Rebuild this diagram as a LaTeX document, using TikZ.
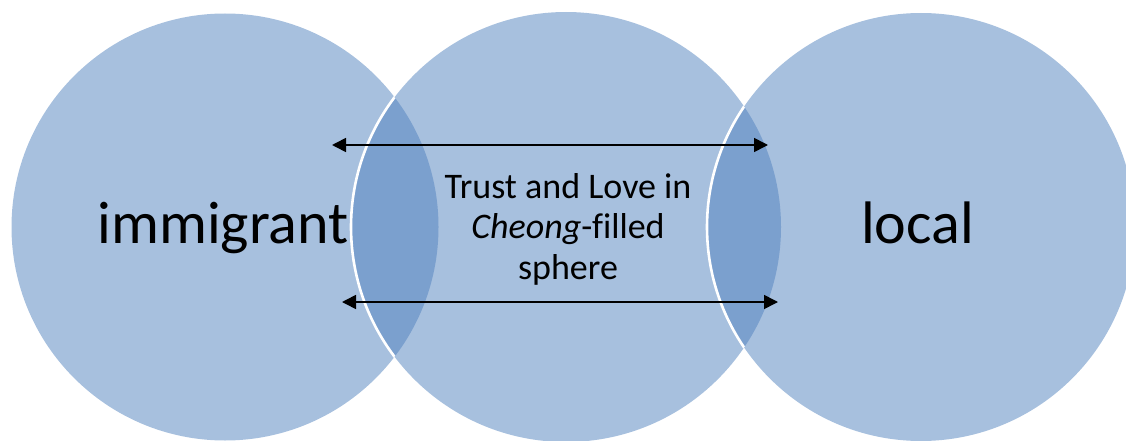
\documentclass[tikz,border=0pt]{standalone}
\usepackage{fontspec}
\setmainfont{Carlito}[Ligatures=NoCommon]
\usetikzlibrary{arrows.meta}
\definecolor{vennlight}{HTML}{A7C0DE}
\definecolor{venndark}{HTML}{7BA0CE}
\tikzset{
  vennfill/.style={fill=vennlight, draw=none},
  lensfill/.style={fill=venndark, draw=none},
  rimline/.style={draw=white, line width=2.6pt},
  biarrow/.style={line width=1.6pt, {Triangle[length=14pt,width=14pt]}-{Triangle[length=14pt,width=14pt]}},
  bigword/.style={font=\fontsize{60}{72}\selectfont, inner sep=0pt, anchor=base},
  midword/.style={font=\fontsize{36}{40.5}\selectfont, inner sep=0pt, align=center}
}
\begin{document}
\begin{tikzpicture}[x=1pt,y=-1pt]
\useasboundingbox (0,0) rectangle (1126,441);
% circles
\def\cL{(225,227) circle [radius=213.5]}
\def\cM{(566,227) circle [radius=215]}
\def\cR{(921,227) circle [radius=214]}
\path[vennfill] \cL;
\path[vennfill] \cM;
\path[vennfill] \cR;
% overlaps
\begin{scope}
  \clip \cL;
  \path[lensfill] \cM;
  \path[rimline] \cM;
\end{scope}
\begin{scope}
  \clip \cM;
  \path[lensfill] \cR;
  \path[rimline] \cR;
\end{scope}
% texts
\node[bigword] (imm) at (223,243) {immigrant};
\node[bigword] (loc) at (917.5,243) {local};
\node[midword] (mid) at (568,229) {Trust and Love in\\\textit{Cheong}-filled\\sphere};
% arrows
\coordinate (a1l) at (332,145);
\coordinate (a1r) at (768,145);
\coordinate (a2l) at (342,302);
\coordinate (a2r) at (778,302);
\draw[biarrow] (a1l) -- (a1r);
\draw[biarrow] (a2l) -- (a2r);
\end{tikzpicture}
\end{document}
